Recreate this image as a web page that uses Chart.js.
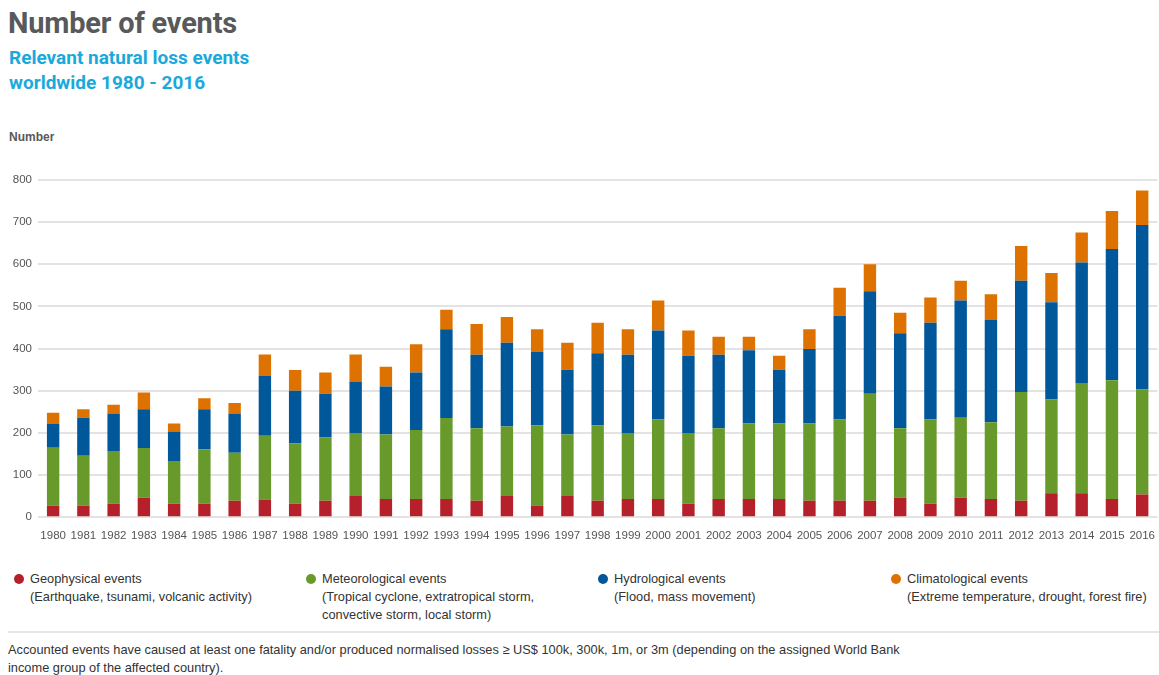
<!DOCTYPE html>
<html>
<head>
<meta charset="utf-8">
<script src="https://cdn.jsdelivr.net/npm/chart.js@4"></script>
<style>
  body { margin: 0; width: 1159px; height: 675px; background: #fff; font-family: "Liberation Sans", Arial, sans-serif; position: relative; overflow: hidden; }
  #title { position: absolute; left: 8px; top: 6px; font-size: 29px; font-weight: bold; color: #58595b; font-family: Roboto, "Liberation Sans", sans-serif; letter-spacing: -0.2px; }
  #sub { position: absolute; left: 9px; top: 45px; font-size: 19px; font-weight: bold; color: #1aa9db; line-height: 25px; font-family: Roboto, "Liberation Sans", sans-serif; }
  #unit { position: absolute; left: 9px; top: 130px; font-size: 12px; font-weight: bold; color: #58595b; }
  #wrap { position: absolute; left: 0; top: 167px; width: 1159px; height: 380px; }
  .leg { position: absolute; top: 570px; font-size: 12.8px; color: #333; line-height: 18px; }
  .leg .dot { position: absolute; left: -16px; top: 4px; width: 10px; height: 10px; border-radius: 50%; }
  #sep { position: absolute; left: 8px; right: 0; top: 631px; height: 2px; background: #e6e6e6; }
  #note { position: absolute; left: 8px; top: 641px; font-size: 12.8px; color: #333; line-height: 18px; }
</style>
</head>
<body>
<div id="title">Number of events</div>
<div id="sub">Relevant natural loss events<br>worldwide 1980 - 2016</div>
<div id="unit">Number</div>
<div id="wrap"><canvas id="chart"></canvas></div>

<div class="leg" style="left:30px"><span class="dot" style="background:#b5202a"></span>Geophysical events<br>(Earthquake, tsunami, volcanic activity)</div>
<div class="leg" style="left:322px"><span class="dot" style="background:#689a2b"></span>Meteorological events<br>(Tropical cyclone, extratropical storm,<br>convective storm, local storm)</div>
<div class="leg" style="left:614px"><span class="dot" style="background:#00579a"></span>Hydrological events<br>(Flood, mass movement)</div>
<div class="leg" style="left:907px"><span class="dot" style="background:#de7200"></span>Climatological events<br>(Extreme temperature, drought, forest fire)</div>
<div id="sep"></div>
<div id="note">Accounted events have caused at least one fatality and/or produced normalised losses ≥ US$ 100k, 300k, 1m, or 3m (depending on the assigned World Bank<br>income group of the affected country).</div>

<script>
const years = [];
for (let y = 1980; y <= 2016; y++) years.push(String(y));

const geophysical = [27,27,32,46,32,32,39,42,32,39,50,43,43,43,39,50,28,50,39,43,43,32,43,43,43,39,39,39,46,32,46,43,39,57,57,43,54];
const meteorological = [138,119,125,118,101,129,114,151,143,150,150,153,164,192,172,165,190,146,179,157,189,168,168,179,179,183,193,254,165,200,190,182,258,222,261,282,249];
const hydrological = [56,90,89,92,70,95,93,142,125,104,122,114,136,211,174,199,174,154,171,185,211,183,174,174,128,177,246,243,225,229,278,243,264,231,286,311,390];
const climatological = [27,20,21,40,19,26,25,51,49,50,64,47,67,46,73,61,54,64,72,61,71,60,43,32,33,47,66,64,49,60,47,61,82,69,71,90,82];

const yTicks = [0,100,200,300,400,500,600,700,800];

function ds(label, data, color) {
  return { label: label, data: data, backgroundColor: color, borderWidth: 0, barPercentage: 0.82, categoryPercentage: 0.5 };
}

new Chart(document.getElementById('chart'), {
  type: 'bar',
  data: {
    labels: years,
    datasets: [
      ds('Geophysical events', geophysical, '#b5202a'),
      ds('Meteorological events', meteorological, '#689a2b'),
      ds('Hydrological events', hydrological, '#00579a'),
      ds('Climatological events', climatological, '#de7200')
    ]
  },
  options: {
    responsive: true,
    maintainAspectRatio: false,
    animation: false,
    layout: { padding: { top: 8, right: 1, left: 0, bottom: 0 } },
    plugins: { legend: { display: false }, tooltip: { enabled: false } },
    scales: {
      x: {
        stacked: true,
        grid: { display: false },
        border: { display: false },
        ticks: { color: '#555', font: { size: 11.5, family: 'Liberation Sans' }, maxRotation: 0, autoSkip: false, padding: 4 }
      },
      y: {
        stacked: true,
        min: 0,
        max: 800,
        afterBuildTicks: axis => { axis.ticks = yTicks.map(v => ({ value: v })); },
        afterFit: axis => { axis.width = 38; },
        grid: { color: '#e3e3e3', lineWidth: 2, drawTicks: false },
        border: { display: false },
        ticks: { color: '#555', font: { size: 11.5, family: 'Liberation Sans' }, padding: 6 }
      }
    }
  }
});
</script>
</body>
</html>
